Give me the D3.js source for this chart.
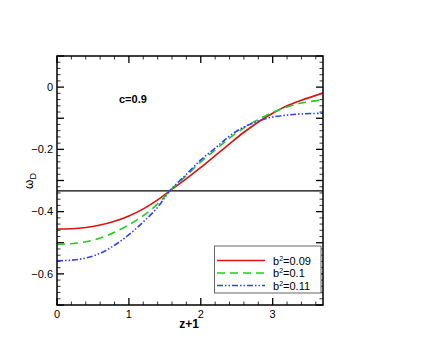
<!DOCTYPE html>
<html>
<head>
<meta charset="utf-8">
<script src="https://cdn.jsdelivr.net/npm/d3@7"></script>
<style>
  body { margin: 0; background: #fff; }
  text { font-family: "Liberation Sans", Arial, sans-serif; }
</style>
</head>
<body>
<svg id="chart" width="436" height="357"></svg>
<script>
// données
const zVals = [0, 0.2, 0.4, 0.6, 0.8, 1.0, 1.2, 1.4, 1.57, 1.8, 2.0, 2.2, 2.4, 2.6, 2.8, 3.0, 3.2, 3.4, 3.7];
const wB009 = [-0.456, -0.455, -0.451, -0.443, -0.431, -0.414, -0.391, -0.362, -0.333, -0.294, -0.258, -0.220, -0.182, -0.145, -0.112, -0.084, -0.060, -0.042, -0.019];
const wB010 = [-0.505, -0.503, -0.497, -0.485, -0.466, -0.442, -0.413, -0.375, -0.333, -0.284, -0.240, -0.202, -0.164, -0.131, -0.104, -0.081, -0.064, -0.051, -0.041];
const wB011 = [-0.558, -0.556, -0.549, -0.534, -0.508, -0.474, -0.433, -0.386, -0.333, -0.280, -0.234, -0.196, -0.157, -0.128, -0.109, -0.096, -0.090, -0.086, -0.084];
const seriesLabels = ["0.09", "0.1", "0.11"];
const wLigne = -1 / 3;
const xMajor = [0, 1, 2, 3];
const yMajor = [0.1, 0, -0.1, -0.2, -0.3, -0.4, -0.5, -0.6, -0.7];
const yLabels = [0, -0.2, -0.4, -0.6];

const svg = d3.select("#chart");
const gauche = 57, droite = 323, haut = 56, bas = 305;

const x = d3.scaleLinear().domain([0, 3.7]).range([gauche, droite]);
const y = d3.scaleLinear().domain([-0.7, 0.1]).range([bas, haut]);

const series = [
  { nom: seriesLabels[0], valeurs: wB009, couleur: "#dd1111", dash: null },
  { nom: seriesLabels[1], valeurs: wB010, couleur: "#22cc22", dash: "8,5" },
  { nom: seriesLabels[2], valeurs: wB011, couleur: "#3344ee", dash: "6,2,1.5,2,1.5,2" }
];

// ticks mineurs
const xMinor = d3.range(0, 3.71, 0.2).filter(v => Math.abs(v - Math.round(v)) > 1e-6);
const yMinor = d3.range(-0.7, 0.101, 0.02).filter(v => Math.abs(v * 10 - Math.round(v * 10)) > 1e-6);

const axes = svg.append("g").attr("stroke", "#000");

function ticksX(vals, len, w) {
  vals.forEach(v => {
    axes.append("line").attr("x1", x(v)).attr("x2", x(v)).attr("y1", bas).attr("y2", bas - len).attr("stroke-width", w);
    axes.append("line").attr("x1", x(v)).attr("x2", x(v)).attr("y1", haut).attr("y2", haut + len).attr("stroke-width", w);
  });
}
function ticksY(vals, len, w) {
  vals.forEach(v => {
    axes.append("line").attr("x1", gauche).attr("x2", gauche + len).attr("y1", y(v)).attr("y2", y(v)).attr("stroke-width", w);
    axes.append("line").attr("x1", droite).attr("x2", droite - len).attr("y1", y(v)).attr("y2", y(v)).attr("stroke-width", w);
  });
}
ticksX(xMajor, 7, 1.3);
ticksX(xMinor, 3.5, 0.8);
ticksY(yMajor, 7, 1.3);
ticksY(yMinor, 3.5, 0.8);

// libellés des axes
svg.append("g").selectAll("text").data(xMajor).enter().append("text")
  .attr("x", d => x(d)).attr("y", 318)
  .attr("text-anchor", "middle").style("font-size", "11px")
  .text(d => d);

svg.append("g").selectAll("text").data(yLabels).enter().append("text")
  .attr("x", 53).attr("y", d => y(d)).attr("dy", "0.35em")
  .attr("text-anchor", "end").style("font-size", "11px")
  .text(d => d === 0 ? "0" : d3.format(".1f")(d));

// ligne horizontale
svg.append("line")
  .attr("x1", x(0)).attr("x2", x(3.7))
  .attr("y1", y(wLigne)).attr("y2", y(wLigne))
  .attr("stroke", "#000").attr("stroke-width", 1.3);

// courbes
const ligne = d3.line()
  .x((d, i) => x(zVals[i]))
  .y(d => y(d))
  .curve(d3.curveCatmullRom.alpha(0.5));

svg.append("defs").append("clipPath").attr("id", "clip")
  .append("rect").attr("x", gauche).attr("y", haut).attr("width", droite - gauche).attr("height", bas - haut);

svg.append("g").attr("clip-path", "url(#clip)")
  .selectAll("path").data(series).enter().append("path")
  .attr("d", d => ligne(d.valeurs))
  .attr("fill", "none")
  .attr("stroke", d => d.couleur)
  .attr("stroke-width", 1.6)
  .attr("stroke-dasharray", d => d.dash);

// cadre
svg.append("rect")
  .attr("x", gauche).attr("y", haut).attr("width", droite - gauche).attr("height", bas - haut)
  .attr("fill", "none").attr("stroke", "#000").attr("stroke-width", 1.5);

// texte c=0.9
svg.append("text").attr("x", 119).attr("y", 103)
  .style("font-size", "11px").style("font-weight", "bold")
  .text("c=0.9");

// titres des axes
svg.append("text").attr("x", 189).attr("y", 328)
  .attr("text-anchor", "middle").style("font-size", "12px").style("font-weight", "bold")
  .text("z+1");

const ty = svg.append("text")
  .attr("transform", "translate(33,181) rotate(-90)")
  .attr("text-anchor", "middle").style("font-size", "12px");
ty.append("tspan").text("ω");
ty.append("tspan").attr("dy", 3).style("font-size", "9px").text("D");

// légende
const leg = svg.append("g");
leg.append("rect").attr("x", 214.5).attr("y", 246).attr("width", 106.5).attr("height", 47)
  .attr("fill", "#fff").attr("stroke", "#666").attr("stroke-width", 1);

series.forEach((s, i) => {
  const ly = 260.5 + i * 12.5;
  leg.append("line").attr("x1", 217).attr("x2", 265).attr("y1", ly).attr("y2", ly)
    .attr("stroke", s.couleur).attr("stroke-width", 1.6).attr("stroke-dasharray", s.dash);
  const t = leg.append("text").attr("x", 273).attr("y", ly).attr("dy", "0.38em").style("font-size", "11px");
  t.append("tspan").text("b");
  t.append("tspan").attr("dy", -4).style("font-size", "7px").text("2");
  t.append("tspan").attr("dy", 4).text("=" + s.nom);
});
</script>
</body>
</html>
